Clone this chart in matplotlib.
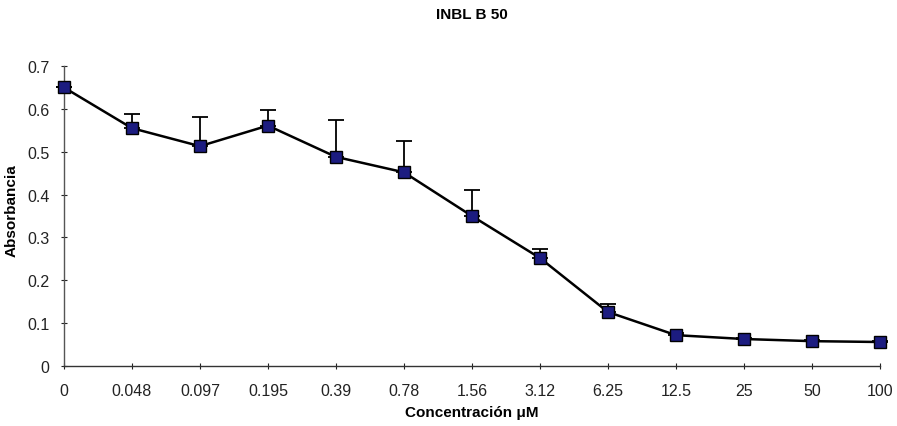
import matplotlib
matplotlib.use('Agg')
import matplotlib.pyplot as plt

plt.rcParams['font.family'] = ['Liberation Sans', 'DejaVu Sans']

# Concentration categories (uM) and absorbance means / upper error
concentraciones = ['0', '0.048', '0.097', '0.195', '0.39', '0.78', '1.56',
                   '3.12', '6.25', '12.5', '25', '50', '100']
absorbancia = [0.650, 0.555, 0.513, 0.561, 0.488, 0.452, 0.350,
               0.252, 0.126, 0.072, 0.063, 0.058, 0.056]
error_sup = [0.0, 0.033, 0.068, 0.036, 0.086, 0.073, 0.060,
             0.021, 0.019, 0.004, 0.003, 0.003, 0.003]

fig = plt.figure(figsize=(8.97, 4.27), dpi=100)
ax = fig.add_axes([0.0713, 0.1405, 0.9097, 0.7025])

x = list(range(len(concentraciones)))
ax.errorbar(x, absorbancia, yerr=[[0] * len(error_sup), error_sup],
            fmt='none', ecolor='black', elinewidth=1.3, capsize=6,
            capthick=1.3, clip_on=False)
ax.plot(x, absorbancia, color='black', linewidth=1.8, marker='s',
        markersize=8, markerfacecolor='#1c1c80', markeredgecolor='black',
        markeredgewidth=1.0, zorder=3, clip_on=False)

ax.set_xlim(0, 12)
ax.set_ylim(0, 0.7)
ax.set_xticks(x)
ax.set_xticklabels(concentraciones)
ax.set_yticks([0, 0.1, 0.2, 0.3, 0.4, 0.5, 0.6, 0.7])
ax.set_yticklabels(['0', '0.1', '0.2', '0.3', '0.4', '0.5', '0.6', '0.7'])
ax.tick_params(axis='both', labelsize=11.5, direction='inout', length=5,
               width=0.8, colors='#222222')
ax.tick_params(axis='x', pad=10)
ax.tick_params(axis='y', pad=8)

for side in ['top', 'right']:
    ax.spines[side].set_visible(False)
for side in ['left', 'bottom']:
    ax.spines[side].set_linewidth(1.0)
ax.spines['left'].set_color('#555555')
ax.spines['bottom'].set_color('#333333')

ax.set_title('INBL B 50', fontsize=11, fontweight='bold', pad=0, y=1.16)
ax.set_xlabel('Concentración μM', fontsize=11, fontweight='bold', labelpad=5)
ax.set_ylabel('Absorbancia', fontsize=11, fontweight='bold', labelpad=2)
ax.yaxis.set_label_coords(-0.055, 0.52)
ax.patch.set_visible(False)

fig.savefig('out.png', dpi=100)
